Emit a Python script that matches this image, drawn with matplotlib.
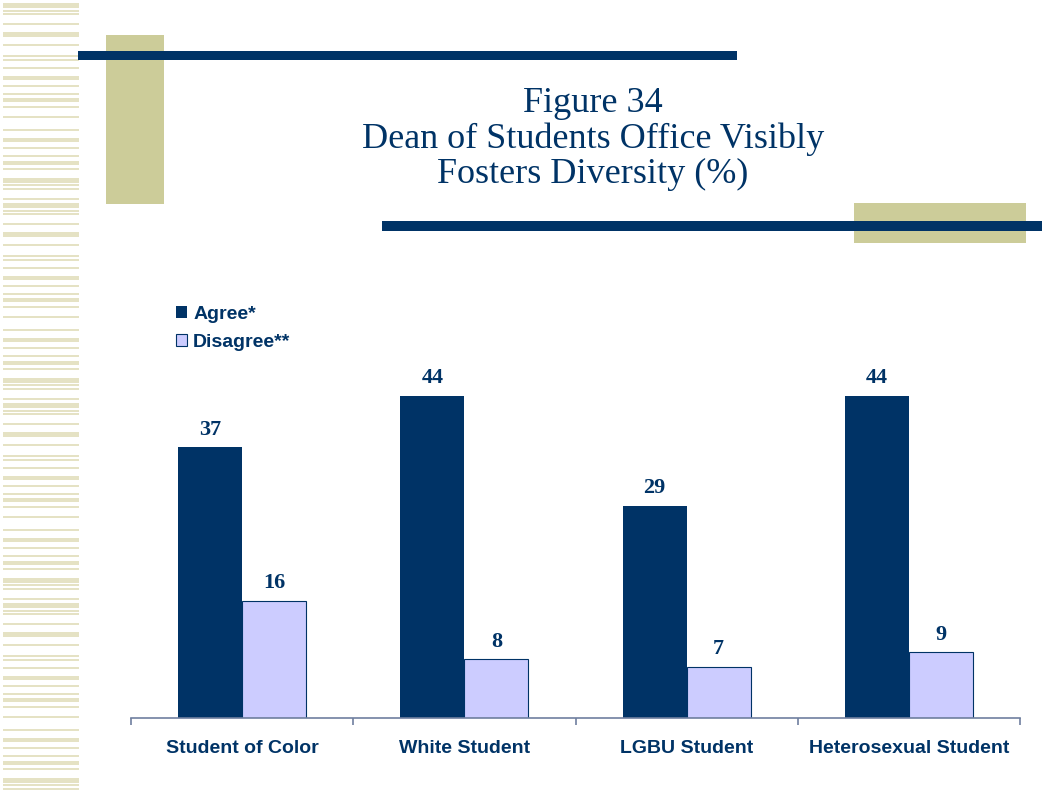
import matplotlib
matplotlib.use("Agg")
import matplotlib.pyplot as plt
from matplotlib.patches import Rectangle

# data
categories = ["Student of Color", "White Student", "LGBU Student", "Heterosexual Student"]
agree = [37, 44, 29, 44]
disagree = [16, 8, 7, 9]
series_labels = ["Agree*", "Disagree**"]

NAVY = "#003366"
LILAC = "#ccccff"
TAN = "#cccc99"
STRIPE = "#e5e2c4"
AXIS = "#6f7f9f"

W, H = 1042, 791
fig = plt.figure(figsize=(W / 100, H / 100), dpi=100)

# background decoration, in pixel coords (y down)
bg = fig.add_axes([0, 0, 1, 1])
bg.set_xlim(0, W)
bg.set_ylim(H, 0)
bg.axis("off")

# left stripe band
pattern = [(3, 4), (10, 1), (13, 1), (23, 1), (32, 4), (44, 1), (55, 1), (59, 1),
           (67, 1), (76, 3), (85, 1), (93, 1), (98, 3), (106, 1), (116, 1), (129, 1),
           (138, 3), (147, 1), (155, 1), (161, 3), (168, 1), (178, 4), (184, 1),
           (188, 1), (198, 1)]
for k in range(4):
    for y0, h in pattern:
        y = y0 + k * 200
        if y < H:
            bg.add_patch(Rectangle((3, y), 76, h + 0.6, color=STRIPE, lw=0))

bg.add_patch(Rectangle((106, 35), 58, 169, color=TAN, lw=0))
bg.add_patch(Rectangle((78, 51), 659, 9, color=NAVY, lw=0))
bg.add_patch(Rectangle((854, 203), 172, 40, color=TAN, lw=0))
bg.add_patch(Rectangle((382, 221), 660, 10, color=NAVY, lw=0))

fig.text(593 / W, 1 - 139 / H, "Figure 34\nDean of Students Office Visibly\nFosters Diversity (%)",
         ha="center", va="center", multialignment="center", fontsize=26,
         family="Liberation Serif", color=NAVY, linespacing=1.07)

# chart
x0, x1, ybase, ytop = 131, 1020, 718, 300
ax = fig.add_axes([x0 / W, 1 - ybase / H, (x1 - x0) / W, (ybase - ytop) / H])
ax.patch.set_alpha(0)
idx = list(range(len(categories)))
bw = 0.288
b1 = ax.bar([i - bw / 2 for i in idx], agree, bw, color=NAVY, label=series_labels[0], zorder=2)
b2 = ax.bar([i + bw / 2 for i in idx], disagree, bw, color=LILAC, edgecolor=NAVY,
            linewidth=0.8, label=series_labels[1], zorder=2)

for bars, vals in ((b1, agree), (b2, disagree)):
    for r, v in zip(bars, vals):
        ax.annotate(str(v), (r.get_x() + r.get_width() / 2, v), xytext=(0, 9),
                    textcoords="offset points", ha="center", va="baseline",
                    fontsize=16, fontweight="bold", family="Liberation Serif", color=NAVY)

ax.set_xlim(-0.5, len(categories) - 0.5)
ax.set_ylim(0, (ybase - ytop) / 7.32)
for s in ("top", "right", "left"):
    ax.spines[s].set_visible(False)
ax.spines["bottom"].set_color(AXIS)
ax.spines["bottom"].set_linewidth(1.2)
ax.set_yticks([])
ax.set_xticks(idx)
ax.set_xticklabels(categories, fontsize=14, fontweight="bold", family="Liberation Sans", color=NAVY)
ax.tick_params(axis="x", which="major", length=0, pad=15.5)
ax.set_xticks([i - 0.5 for i in range(len(categories) + 1)], minor=True)
ax.tick_params(axis="x", which="minor", length=5, width=1.2, color=AXIS, direction="out")

leg = fig.legend(handles=[b1, b2], loc="upper left", bbox_to_anchor=(176 / W, 1 - 306 / H),
                 frameon=False, handlelength=0.58, handleheight=0.58, handletextpad=0.3,
                 labelspacing=0.58, borderpad=0, borderaxespad=0,
                 prop={"family": "Liberation Sans", "weight": "bold", "size": 14})
for t in leg.get_texts():
    t.set_color(NAVY)

fig.savefig("out.png", dpi=100)
